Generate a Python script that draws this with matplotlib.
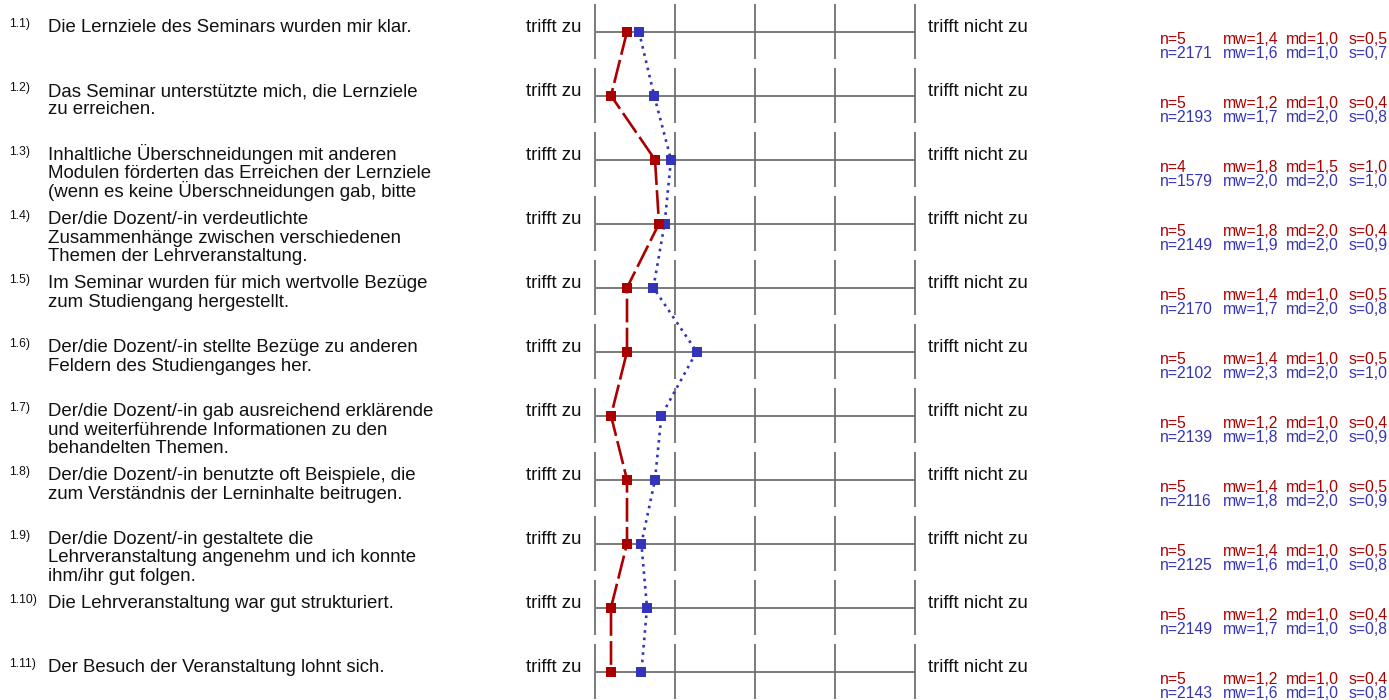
import matplotlib
matplotlib.use("Agg")
import matplotlib.pyplot as plt

plt.rcParams['font.family'] = ['Liberation Sans', 'DejaVu Sans']

numbers = ["1.1)", "1.2)", "1.3)", "1.4)", "1.5)", "1.6)", "1.7)", "1.8)", "1.9)", "1.10)", "1.11)"]
questions = [
    "Die Lernziele des Seminars wurden mir klar.",
    "Das Seminar unterstützte mich, die Lernziele\nzu erreichen.",
    "Inhaltliche Überschneidungen mit anderen\nModulen förderten das Erreichen der Lernziele\n(wenn es keine Überschneidungen gab, bitte",
    "Der/die Dozent/-in verdeutlichte\nZusammenhänge zwischen verschiedenen\nThemen der Lehrveranstaltung.",
    "Im Seminar wurden für mich wertvolle Bezüge\nzum Studiengang hergestellt.",
    "Der/die Dozent/-in stellte Bezüge zu anderen\nFeldern des Studienganges her.",
    "Der/die Dozent/-in gab ausreichend erklärende\nund weiterführende Informationen zu den\nbehandelten Themen.",
    "Der/die Dozent/-in benutzte oft Beispiele, die\nzum Verständnis der Lerninhalte beitrugen.",
    "Der/die Dozent/-in gestaltete die\nLehrveranstaltung angenehm und ich konnte\nihm/ihr gut folgen.",
    "Die Lehrveranstaltung war gut strukturiert.",
    "Der Besuch der Veranstaltung lohnt sich.",
]
left_label = "trifft zu"
right_label = "trifft nicht zu"
scale = [1, 2, 3, 4, 5]

# plotted mean positions
course_mean = [1.4, 1.2, 1.75, 1.8, 1.4, 1.4, 1.2, 1.4, 1.4, 1.2, 1.2]
all_mean = [1.55, 1.74, 1.95, 1.87, 1.73, 2.27, 1.83, 1.75, 1.58, 1.65, 1.58]

# statistics shown on the right
course_n = ["5", "5", "4", "5", "5", "5", "5", "5", "5", "5", "5"]
course_mw = ["1,4", "1,2", "1,8", "1,8", "1,4", "1,4", "1,2", "1,4", "1,4", "1,2", "1,2"]
course_md = ["1,0", "1,0", "1,5", "2,0", "1,0", "1,0", "1,0", "1,0", "1,0", "1,0", "1,0"]
course_s = ["0,5", "0,4", "1,0", "0,4", "0,5", "0,5", "0,4", "0,5", "0,5", "0,4", "0,4"]
all_n = ["2171", "2193", "1579", "2149", "2170", "2102", "2139", "2116", "2125", "2149", "2143"]
all_mw = ["1,6", "1,7", "2,0", "1,9", "1,7", "2,3", "1,8", "1,8", "1,6", "1,7", "1,6"]
all_md = ["1,0", "2,0", "2,0", "2,0", "2,0", "2,0", "2,0", "2,0", "1,0", "1,0", "1,0"]
all_s = ["0,7", "0,8", "1,0", "0,9", "0,8", "1,0", "0,9", "0,9", "0,8", "0,8", "0,8"]

RED = "#aa0000"
BLUE = "#3434b8"
GRID = "#707070"
TXT = "#111111"

W, H = 1389, 700
fig = plt.figure(figsize=(W / 100, H / 100), dpi=100)
ax = fig.add_axes([0, 0, 1, 1])

# pixel geometry -> data: x=1 at 595px, 80px per unit; row 0 centre at 31.7px, 64px per row
X0PX, XPU = 595.0, 80.0
Y0PX, YPU = 31.7, 64.0
ax.set_xlim(1 - X0PX / XPU, 1 + (W - X0PX) / XPU)
ax.set_ylim((H - Y0PX) / YPU, -Y0PX / YPU)
ax.axis("off")


def px(x):
    return 1 + (x - X0PX) / XPU


def dy(p):
    return p / YPU


rows = list(range(len(questions)))
half = dy(27.6)

for r in rows:
    ax.plot([scale[0], scale[-1]], [r, r], color=GRID, lw=1.3, solid_capstyle="butt", zorder=1)
    for s in scale:
        ax.plot([s, s], [r - half, r + half], color=GRID, lw=1.3, solid_capstyle="butt", zorder=1)
    ax.text(px(9), r - dy(4.3), numbers[r], fontsize=8.8, va="baseline", ha="left", color=TXT)
    for k, line in enumerate(questions[r].split("\n")):
        ax.text(px(48), r + dy(0.6 + 18.2 * k), line, fontsize=13.4, va="baseline", ha="left", color=TXT)
    ax.text(px(581), r + dy(0.6), left_label, fontsize=13.4, va="baseline", ha="right", color=TXT)
    ax.text(px(928), r + dy(0.6), right_label, fontsize=13.4, va="baseline", ha="left", color=TXT)
    for y_off, col, vals in [
        (12, RED, (course_n[r], course_mw[r], course_md[r], course_s[r])),
        (26.5, BLUE, (all_n[r], all_mw[r], all_md[r], all_s[r])),
    ]:
        for xp, pre, v in zip([1160, 1223.3, 1286, 1348.3], ["n=", "mw=", "md=", "s="], vals):
            ax.text(px(xp), r + dy(y_off), pre + v, fontsize=11.3, va="baseline", ha="left", color=col)

ax.plot(all_mean, rows, color=BLUE, lw=1.9, linestyle=(0, (1, 1.8)), marker="s", markersize=6.6,
        markeredgewidth=0, markerfacecolor=BLUE, zorder=3, clip_on=False)
ax.plot(course_mean, rows, color=RED, lw=1.9, linestyle=(0, (9, 2)), marker="s", markersize=6.8,
        markeredgewidth=0, markerfacecolor=RED, zorder=4, clip_on=False)

fig.savefig("out.png", dpi=100)
